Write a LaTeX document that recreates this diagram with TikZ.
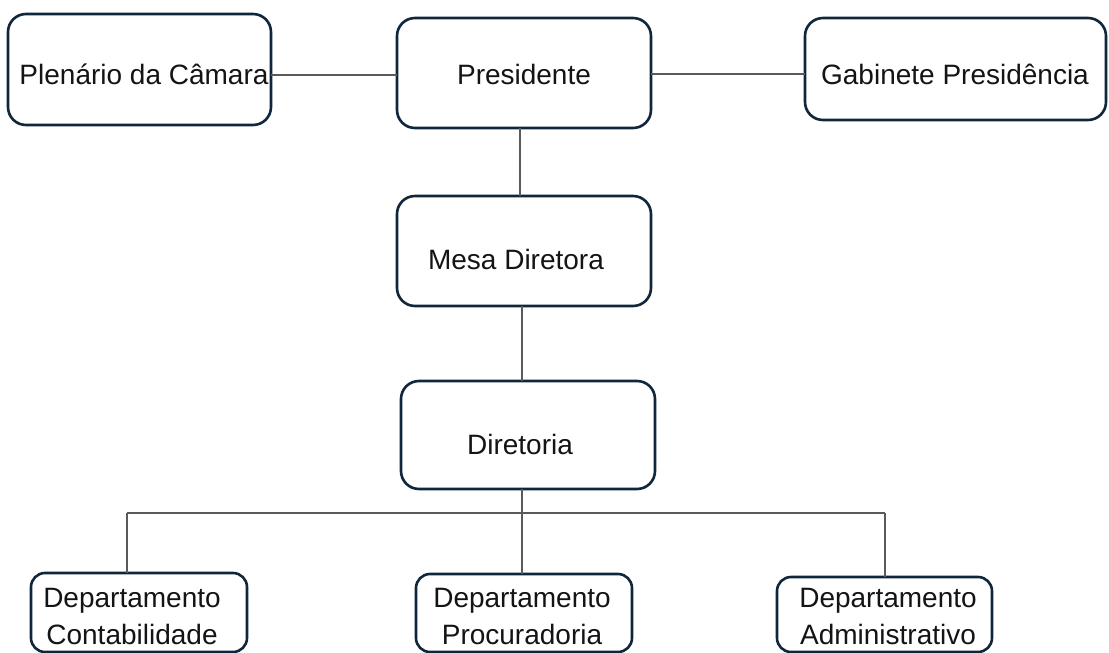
\documentclass[tikz,border=0pt]{standalone}
\usepackage{fontspec}
\setmainfont{Liberation Sans}
\definecolor{boxline}{HTML}{10263B}
\definecolor{conn}{HTML}{5A5A5A}
\begin{document}
\begin{tikzpicture}[x=1pt,y=-1pt,
  box/.style={draw=boxline, line width=2.6pt, rounded corners=18pt, inner sep=0pt, outer sep=0pt},
  smallbox/.style={box, rounded corners=14pt},
  lbl/.style={font=\fontsize{28}{37}\selectfont, text=black!92, align=center, inner sep=0pt},
  link/.style={draw=conn, line width=1.1pt}]
\useasboundingbox (0,0) rectangle (1109,653);
\clip (0,0) rectangle (1109,653);
\fill[white] (0,0) rectangle (1109,653);
% boxes
\node[box, minimum width=263pt, minimum height=111pt] (plen) at (139.5,69.5) {};
\node[box, minimum width=254pt, minimum height=110pt] (pres) at (524,73) {};
\node[box, minimum width=301pt, minimum height=102pt] (gab) at (955.5,69) {};
\node[box, minimum width=254pt, minimum height=110pt] (mesa) at (524,251) {};
\node[box, minimum width=254pt, minimum height=108pt] (dir) at (528,435) {};
\node[smallbox, minimum width=216pt, minimum height=79pt] (cont) at (139,612.5) {};
\node[smallbox, minimum width=216pt, minimum height=78pt] (proc) at (524,613) {};
\node[smallbox, minimum width=215pt, minimum height=75pt] (adm) at (884.5,614.5) {};
% labels
\node[lbl, anchor=base] (plen-t) at (144,84) {Plenário da Câmara};
\node[lbl, anchor=base] (pres-t) at (524,84) {Presidente};
\node[lbl, anchor=base] (gab-t) at (955,84) {Gabinete Presidência};
\node[lbl, anchor=base] (mesa-t) at (516,269) {Mesa Diretora};
\node[lbl, anchor=base] (dir-t) at (520,454) {Diretoria};
\node[lbl] (cont-t) at (132,616) {Departamento\\Contabilidade};
\node[lbl] (proc-t) at (522,616) {Departamento\\Procuradoria};
\node[lbl] (adm-t) at (888,616) {Departamento\\Administrativo};
% connectors
\coordinate (bus) at (522,513);
\coordinate (jL) at (127,513);
\coordinate (jR) at (885,513);
\coordinate (vtop) at (520,0);
\coordinate (vmid) at (522,0);
\coordinate (hpl) at (0,75);
\coordinate (hgb) at (0,74);
\draw[link] (plen.east |- hpl) -- (pres.west |- hpl);
\draw[link] (pres.east |- hgb) -- (gab.west |- hgb);
\draw[link] (pres.south -| vtop) -- (mesa.north -| vtop);
\draw[link] (mesa.south -| vmid) -- (dir.north -| vmid);
\draw[link] (dir.south -| bus) -- (proc.north -| bus);
\draw[link] (jL) -- (jR);
\draw[link] (jL) -- (cont.north -| jL);
\draw[link] (jR) -- (adm.north -| jR);
\end{tikzpicture}
\end{document}
